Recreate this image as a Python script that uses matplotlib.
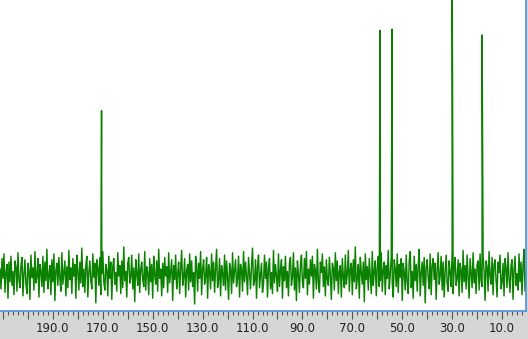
import numpy as np
import matplotlib
matplotlib.use("Agg")
import matplotlib.pyplot as plt
from matplotlib.ticker import MultipleLocator, FuncFormatter

# chemical shift range (ppm), reversed axis
ppm_left = 211.2
ppm_right = 0.4

# peaks: position (ppm) and intensity (arbitrary units above baseline)
peak_ppm = [170.5, 58.9, 54.1, 30.0, 18.0]
peak_height = [141, 210, 211, 270, 206]

# baseline noise (left half, right half)
noise_a = [
    5, -12, 14, -3, 18, -15, 2, 9, -20, 11, -6, 16, -9, 3, -17, 12, 7, -14, 19, -4, -11, 8, 15, -18,
    1, 13, -8, -16, 10, 4, -21, 17, -2, 6, -13, 20, -7, -1, 14, -19, 9, 3, -10, 16, -15, 11, -5, 22,
    -12, 0, 8, -17, 13, -6, 18, -22, 4, 10, -9, 15, -3, -14, 19, -8, 2, 12, -18, 7, -11, 21, -4, 6,
    -16, 14, -1, 9, -20, 17, 3, -13, 11, -7, 23, -10, 5, -15, 8, 16, -19, 2, 12, -5, -12, 18, -2, 10,
    -24, 13, 6, -9, 15, -17, 1, 20, -6, -13, 9, 4, -18, 16, -3, 11, -21, 7, 14, -8, 2, -14, 19, -1,
    8, -16, 12, -11, 24, -5, 3, -19, 10, 15, -7, -2, 17, -12, 6, -23, 13, 1, -9, 18, -15, 5, 11, -4,
    -10, 20, -13, 7, 2, -17, 14, -6, 9, -20, 16, 0, -8, 12, -14, 22, -3, 5, -18, 10, -11, 15, -1, 7,
    -15, 19, -7, 3, 13, -22, 8, -4, 17, -12, 1, 11, -16, 6, 21, -9, -2, 14, -19, 4, 9, -13, 18, -6,
    12, -10, 2, -25, 16, 7, -14, 10, -3, 20, -17, 5, 13, -8, -1, 15, -20, 9, 3, -12, 18, -5, 11, -15,
    6, 22, -11, -4, 14, -18, 8, 1, -9, 17, -13, 12, -2, -21, 10, 5, -16, 19, -7, 3, 13, -10, -3, 16,
    -19, 9, 4, -14, 20, -6, 11, -1, -17, 15, 2, -12, 8, 23, -9, -5, 13, -20, 7, 17, -11, 0, 10, -15,
]
noise_b = [
    -8, 17, -3, 11, -19, 6, 14, -12, 2, -16, 21, -7, 9, -1, -14, 18, -10, 4, 13, -20, 7, -5, 16, -11,
    3, -18, 10, 15, -9, -2, 19, -13, 6, -22, 12, 1, -15, 8, 17, -6, -11, 14, -3, 20, -17, 5, -8, 13,
    -1, 16, -20, 9, 4, -12, 22, -7, -15, 11, 2, 18, -10, 7, -18, 13, -4, -9, 15, 0, -21, 10, 6, -13,
    19, -5, 12, -16, 3, 8, -19, 14, -2, -11, 17, -8, 1, 21, -14, 5, 10, -17, 13, -6, 24, -12, -3, 9,
    -20, 15, 2, -8, 11, -23, 18, -4, 7, -13, 14, -1, -16, 20, -9, 3, 12, -18, 6, 16, -10, -5, 19, -14,
    4, 11, -17, 8, -3, 21, -12, 0, 15, -7, -19, 13, 5, -10, 18, -15, 9, -2, 14, -22, 10, 2, -13, 17,
    -6, -16, 12, 20, -11, 3, -20, 16, -5, 9, -14, 7, 22, -18, 1, 11, -9, 15, -24, 6, 13, -3, -12, 18,
    -17, 8, 14, -4, 10, -21, 5, 19, -8, -1, 16, -13, 11, -19, 3, 17, -7, -14, 12, 2, -10, 20, -16, 6,
    15, -9, -3, 13, -18, 10, 4, -15, 21, -6, 8, -12, 17, -2, -20, 14, 1, -11, 19, -7, 5, -16, 9, 12,
    -13, 18, -5, -10, 16, 3, -22, 12, 7, -14, 20, -1, -8, 15, -17, 9, 13, -4, -19, 11, 2, 17, -12, -6,
    10, -18, 14, 6, -11, 19, -3, -15, 8, 13, -21, 4, 16, -9, 1, -13, 18, -6, 11, -17, 7, 22, -14, 3,
]

noise = np.array(noise_a + noise_b, dtype=float)
x_noise = np.linspace(ppm_left, ppm_right, len(noise))

# merge peaks into the trace
x_all = np.concatenate([x_noise, np.array(peak_ppm)])
y_all = np.concatenate([noise, np.array(peak_height, dtype=float)])
order = np.argsort(-x_all)
x_all = x_all[order]
y_all = y_all[order]

fig = plt.figure(figsize=(5.28, 3.39), dpi=100)
fig.patch.set_facecolor("#d6d6d6")
ax = fig.add_axes([0, 28 / 339, 526 / 528, 311 / 339])
ax.set_facecolor("white")

ax.plot(x_all, y_all, color="#0a8200", lw=1.05)

ax.set_xlim(ppm_left, ppm_right)
ax.set_ylim(-31, 236)

for s in ["left", "top"]:
    ax.spines[s].set_visible(False)
for s in ["bottom", "right"]:
    ax.spines[s].set_color("#4a90e2")
    ax.spines[s].set_linewidth(1.2)

ax.yaxis.set_visible(False)
ax.xaxis.set_major_locator(MultipleLocator(10))
ax.xaxis.set_minor_locator(MultipleLocator(2))
ax.xaxis.set_major_formatter(FuncFormatter(
    lambda v, p: f"{v:.1f}" if (int(round(v)) % 20 == 10 and v < 200) else ""))
ax.tick_params(axis="x", which="major", direction="out", length=6, width=0.8,
               color="#555555", labelsize=8.5, labelcolor="#222222", pad=2)
ax.tick_params(axis="x", which="minor", direction="out", length=3, width=0.8,
               color="#555555")

fig.savefig("out.png", dpi=100, facecolor=fig.get_facecolor())
